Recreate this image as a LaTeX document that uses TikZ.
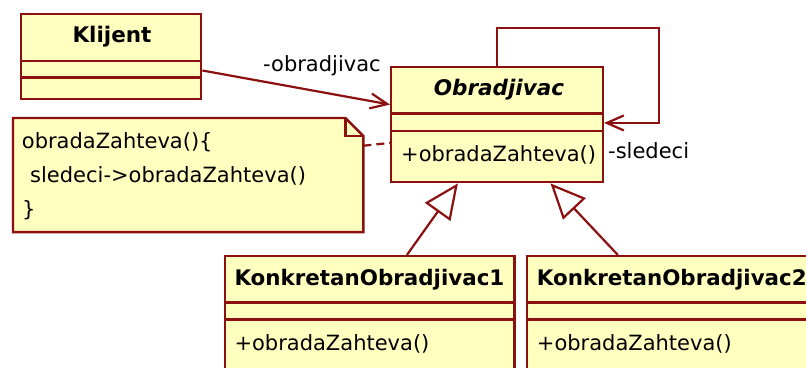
\documentclass[tikz,border=0pt]{standalone}
\usepackage{fontspec}
\setmainfont{DejaVu Sans}
\usetikzlibrary{arrows.meta}
\definecolor{umlline}{HTML}{8C1010}
\definecolor{umlfill}{HTML}{FFFFC0}
\begin{document}
\begin{tikzpicture}[x=1pt,y=-1pt,
  cls/.style={draw=umlline, fill=umlfill, line width=2.4pt, rectangle, anchor=north west, inner sep=0pt},
  txt/.style={inner sep=0pt, anchor=base west, font=\fontsize{21}{24}\selectfont},
  ttl/.style={inner sep=0pt, anchor=base, font=\fontsize{21.5}{24}\selectfont\bfseries},
  kttl/.style={inner sep=0pt, anchor=base west, font=\fontsize{21.4}{24}\selectfont\bfseries},
  sepline/.style={draw=umlline, line width=2.4pt},
  assoc/.style={draw=umlline, line width=2.2pt, -{Straight Barb[length=17pt,width=15pt]}},
  gen/.style={draw=umlline, line width=2.2pt, -{Triangle[open,length=35pt,width=31pt]}},
  notelink/.style={draw=umlline, line width=2.2pt, dash pattern=on 8pt off 5pt},
]
\path[use as bounding box] (0,0) rectangle (806,367);
\clip (0,0) rectangle (806,367);
\fill[white] (0,0) rectangle (806,367);

% Klijent
\node[cls, minimum width=180pt, minimum height=85pt] (klijent) at (20,12.7) {};
\draw[sepline] ([yshift=-48pt]klijent.north west) -- ([yshift=-48pt]klijent.north east);
\draw[sepline] ([yshift=-64.6pt]klijent.north west) -- ([yshift=-64.6pt]klijent.north east);
\node[ttl] (klijentT) at (112,42) {Klijent};

% Obradjivac
\node[cls, minimum width=211.7pt, minimum height=115.3pt] (obr) at (390,65.7) {};
\draw[sepline] ([yshift=-47.6pt]obr.north west) -- ([yshift=-47.6pt]obr.north east);
\draw[sepline] ([yshift=-65pt]obr.north west) -- ([yshift=-65pt]obr.north east);
\node[ttl] (obrT) at (499,95) {\itshape Obradjivac};
\node[txt] (obrM) at (401,161) {+obradaZahteva()};

% Concrete handlers
\node[cls, minimum width=289.3pt, minimum height=130pt] (c1) at (224,255) {};
\draw[sepline] ([yshift=-47.3pt]c1.north west) -- ([yshift=-47.3pt]c1.north east);
\draw[sepline] ([yshift=-64.3pt]c1.north west) -- ([yshift=-64.3pt]c1.north east);
\node[kttl] (c1T) at (234.3,285) {KonkretanObradjivac1};
\node[txt] (c1M) at (234.3,350) {+obradaZahteva()};

\node[cls, minimum width=300pt, minimum height=130pt] (c2) at (526,255) {};
\draw[sepline] ([yshift=-47.3pt]c2.north west) -- ([yshift=-47.3pt]c2.north east);
\draw[sepline] ([yshift=-64.3pt]c2.north west) -- ([yshift=-64.3pt]c2.north east);
\node[kttl] (c2T) at (536.7,285) {KonkretanObradjivac2};
\node[txt] (c2M) at (536.7,350) {+obradaZahteva()};

% Note
\node[rectangle, inner sep=0pt, minimum width=350pt, minimum height=113.7pt, anchor=north west] (note) at (13,118) {};
\draw[draw=umlline, fill=umlfill, line width=2.4pt, line join=miter]
  (note.north west) -- ([xshift=-18pt]note.north east) -- ([yshift=-18pt]note.north east)
  -- (note.south east) -- (note.south west) -- cycle;
\draw[draw=umlline, line width=2.2pt]
  ([xshift=-18pt]note.north east) -- ([xshift=-18pt,yshift=-18pt]note.north east) -- ([yshift=-18pt]note.north east);
\node[txt] (n1) at (21.7,148.5) {obradaZahteva()\{};
\node[txt] (n2) at (30,182) {sledeci->obradaZahteva()};
\node[txt] (n3) at (22,216.5) {\}};

% Connectors
\draw[assoc] ([yshift=-14.1pt]klijent.east) -- ([yshift=20pt]obr.west);
\node[txt] (lblobr) at (263,71) {-obradjivac};

\coordinate (loopR) at (658.7,27.7);
\draw[assoc] (obr.north) |- (loopR) |- ([yshift=1.6pt]obr.east);
\node[txt] (lblsled) at (608,158.5) {-sledeci};

\draw[notelink] ([yshift=29.35pt]note.east) -- ([yshift=-18.4pt]obr.west);

\draw[gen] ([xshift=37.05pt]c1.north) -- ([xshift=-39.15pt]obr.south);
\draw[gen] ([xshift=-59.3pt]c2.north) -- ([xshift=53.45pt]obr.south);
\end{tikzpicture}
\end{document}
